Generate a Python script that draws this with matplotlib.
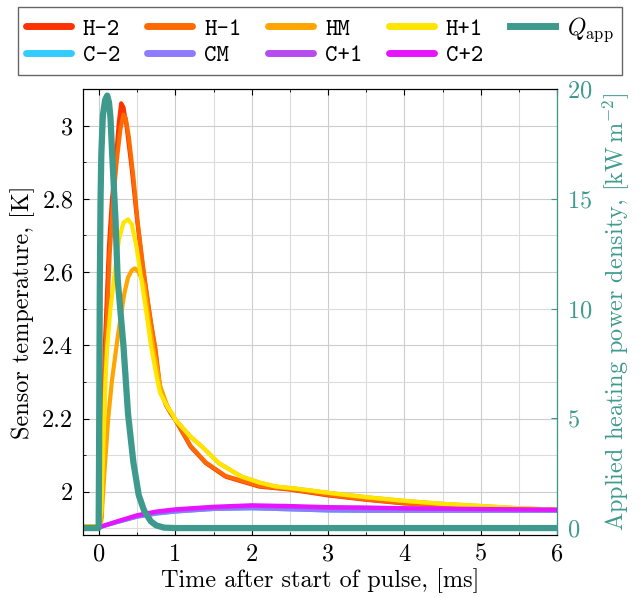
"""Sensor temperatures and applied heating power after a heat pulse."""

import matplotlib
matplotlib.use('Agg')
import matplotlib.pyplot as plt
from matplotlib.ticker import MultipleLocator

plt.rcParams['font.family'] = ['cmr10']
plt.rcParams['mathtext.fontset'] = 'cm'
plt.rcParams['axes.formatter.use_mathtext'] = True
plt.rcParams['axes.unicode_minus'] = False

FS = 17.5

# Heater side sensors (time in ms, temperature in K)
t_h2 = [-0.21, 0.0, 0.03, 0.076, 0.13, 0.17, 0.216, 0.26, 0.29, 0.32, 0.36, 0.43,
        0.5, 0.57, 0.63, 0.68, 0.73, 0.8, 0.88, 0.94, 1.0, 1.2, 1.4, 1.66, 2.1,
        2.5, 3.0, 3.5, 4.0, 4.5, 5.0, 5.5, 6.0]
T_h2 = [1.905, 1.905, 1.93, 2.396, 2.67, 2.8, 2.897, 3.01, 3.061, 3.05, 3.0, 2.88,
        2.74, 2.62, 2.53, 2.46, 2.396, 2.28, 2.235, 2.214, 2.196, 2.123, 2.078,
        2.041, 2.014, 2.006, 1.99, 1.978, 1.968, 1.962, 1.957, 1.953, 1.95]

t_h1 = [-0.21, 0.0, 0.03, 0.085, 0.14, 0.18, 0.23, 0.28, 0.32, 0.35, 0.39, 0.45,
        0.51, 0.58, 0.64, 0.69, 0.74, 0.8, 0.88, 0.94, 1.0, 1.2, 1.4, 1.66, 2.1,
        2.5, 3.0, 3.5, 4.0, 4.5, 5.0, 5.5, 6.0]
T_h1 = [1.905, 1.905, 1.93, 2.38, 2.65, 2.78, 2.9, 2.99, 3.03, 3.02, 2.97, 2.86,
        2.73, 2.61, 2.52, 2.45, 2.39, 2.285, 2.24, 2.216, 2.197, 2.125, 2.08,
        2.043, 2.016, 2.007, 1.992, 1.979, 1.969, 1.962, 1.957, 1.953, 1.95]

t_hm = [-0.21, 0.0, 0.03, 0.07, 0.12, 0.17, 0.25, 0.33, 0.38, 0.43, 0.47, 0.52,
        0.59, 0.65, 0.72, 0.8, 0.9, 1.0, 1.2, 1.35, 1.57, 1.87, 2.1, 2.32, 2.6,
        3.0, 3.5, 4.0, 4.5, 5.0, 5.5, 6.0]
T_hm = [1.905, 1.905, 1.92, 2.05, 2.2, 2.305, 2.43, 2.54, 2.585, 2.605, 2.61, 2.6,
        2.565, 2.47, 2.38, 2.29, 2.23, 2.197, 2.15, 2.123, 2.078, 2.041, 2.025,
        2.014, 2.008, 1.997, 1.985, 1.975, 1.967, 1.961, 1.955, 1.951]

t_hp1 = [-0.21, 0.0, 0.03, 0.085, 0.107, 0.15, 0.195, 0.26, 0.32, 0.38, 0.43, 0.49,
         0.566, 0.62, 0.68, 0.75, 0.8, 0.9, 0.96, 1.0, 1.2, 1.35, 1.57, 1.87, 2.1,
         2.32, 2.6, 3.0, 3.5, 4.0, 4.5, 5.0, 5.5, 6.0]
T_hp1 = [1.905, 1.905, 1.95, 2.305, 2.396, 2.5, 2.578, 2.688, 2.735, 2.744, 2.73,
         2.67, 2.565, 2.49, 2.4, 2.32, 2.27, 2.23, 2.214, 2.196, 2.15, 2.123, 2.078,
         2.041, 2.025, 2.014, 2.008, 1.997, 1.985, 1.975, 1.967, 1.961, 1.955, 1.951]

# Cold side sensors
t_c = [-0.21, 0.0, 0.25, 0.5, 0.75, 1.0, 1.5, 2.0, 2.5, 3.0, 3.5, 4.0, 5.0, 6.0]
T_cm2 = [1.903, 1.903, 1.918, 1.932, 1.94, 1.946, 1.953, 1.955, 1.952, 1.949,
         1.948, 1.948, 1.948, 1.948]
T_cm = [1.903, 1.903, 1.918, 1.932, 1.941, 1.946, 1.953, 1.955, 1.952, 1.949,
        1.948, 1.948, 1.948, 1.948]
T_cp1 = [1.903, 1.903, 1.919, 1.934, 1.944, 1.95, 1.957, 1.961, 1.959, 1.956,
         1.955, 1.954, 1.952, 1.95]
T_cp2 = [1.903, 1.903, 1.92, 1.936, 1.946, 1.952, 1.959, 1.963, 1.961, 1.958,
         1.957, 1.955, 1.953, 1.951]

# Applied heating power density, kW/m^2
t_q = [-0.21, -0.005, 0.0, 0.01, 0.02, 0.03, 0.05, 0.08, 0.107, 0.13, 0.15, 0.17,
       0.215, 0.245, 0.32, 0.38, 0.45, 0.52, 0.59, 0.68, 0.75, 0.85, 1.0, 6.0]
q_app = [0.0, 0.0, 3.0, 11.0, 15.0, 17.0, 18.8, 19.5, 19.7, 19.4, 18.7, 17.2,
         14.1, 11.3, 8.3, 5.2, 3.0, 1.5, 0.8, 0.3, 0.12, 0.02, 0.0, 0.0]

labels = ['H-2', 'H-1', 'HM', 'H+1', 'C-2', 'CM', 'C+1', 'C+2']
colors = ['#ff3300', '#ff6a00', '#ffa500', '#ffe500',
          '#33ccff', '#8c7cff', '#b44cf0', '#e614ff']
TEAL = '#3f9a8e'

fig = plt.figure(figsize=(6.44, 5.98), dpi=100)
ax = fig.add_subplot(111)
fig.subplots_adjust(left=83 / 644, right=557 / 644,
                    bottom=1 - 535.3 / 598, top=1 - 89 / 598)

series = [(t_h2, T_h2), (t_h1, T_h1), (t_hm, T_hm), (t_hp1, T_hp1),
          (t_c, T_cm2), (t_c, T_cm), (t_c, T_cp1), (t_c, T_cp2)]
lines = []
for (tt, TT), lab, col in zip(series, labels, colors):
    ln, = ax.plot(tt, TT, color=col, lw=3, label=lab, solid_capstyle='round')
    lines.append(ln)

ax.set_xlim(-0.21, 6)
ax.set_ylim(1.881, 3.10)
ax.xaxis.set_major_locator(MultipleLocator(1))
ax.xaxis.set_minor_locator(MultipleLocator(0.5))
ax.yaxis.set_major_locator(MultipleLocator(0.2))
ax.yaxis.set_minor_locator(MultipleLocator(0.1))
ax.yaxis.set_major_formatter(plt.FuncFormatter(lambda v, p: f'{v:g}'))
ax.xaxis.set_major_formatter(plt.FuncFormatter(lambda v, p: f'{v:g}'))
ax.grid(which='major', color='#cccccc', lw=0.8)
ax.grid(which='minor', color='#dcdcdc', lw=0.8)
ax.set_axisbelow(True)
ax.tick_params(which='both', direction='in', top=True, labelsize=FS)
ax.tick_params(axis='y', pad=7)
ax.tick_params(axis='x', pad=6)
ax.tick_params(which='major', length=4)
ax.tick_params(which='minor', length=2)
ax.set_xlabel('Time after start of pulse, [ms]', fontsize=FS, labelpad=2)
ax.set_ylabel('Sensor temperature, [K]', fontsize=FS, labelpad=5)

ax2 = ax.twinx()
q_line, = ax2.plot(t_q, q_app, color=TEAL, lw=4.5, label=r'$Q_\mathrm{app}$')
ax2.set_ylim(-0.33, 20)
ax2.yaxis.set_major_locator(MultipleLocator(5))
ax2.tick_params(axis='y', direction='in', length=4, colors=TEAL, labelsize=FS, pad=7)
ax2.spines['right'].set_color(TEAL)
ax2.set_ylabel(r'Applied heating power density, $[\mathrm{kW\,m}^{-2}]$',
               color=TEAL, fontsize=FS, labelpad=6)

# column-major order so the legend reads row by row
order = [lines[0], lines[4], lines[1], lines[5], lines[2], lines[6],
         lines[3], lines[7], q_line]
leg = fig.legend(handles=order, labels=[h.get_label() for h in order],
                 ncol=5, loc='center', mode='expand',
                 bbox_to_anchor=(18 / 644, 1 - 77 / 598, 604 / 644, 72 / 598),
                 frameon=True, fancybox=False, edgecolor='#404040',
                 fontsize=17, handlelength=1.9, handletextpad=0.5,
                 borderaxespad=0, borderpad=0.35, labelspacing=0.15)
leg.get_frame().set_linewidth(1.0)
for txt in leg.get_texts()[:-1]:
    txt.set_fontfamily('cmtt10')
for h in leg.legend_handles:
    h.set_linewidth(5)

fig.savefig('out.png', dpi=100)
